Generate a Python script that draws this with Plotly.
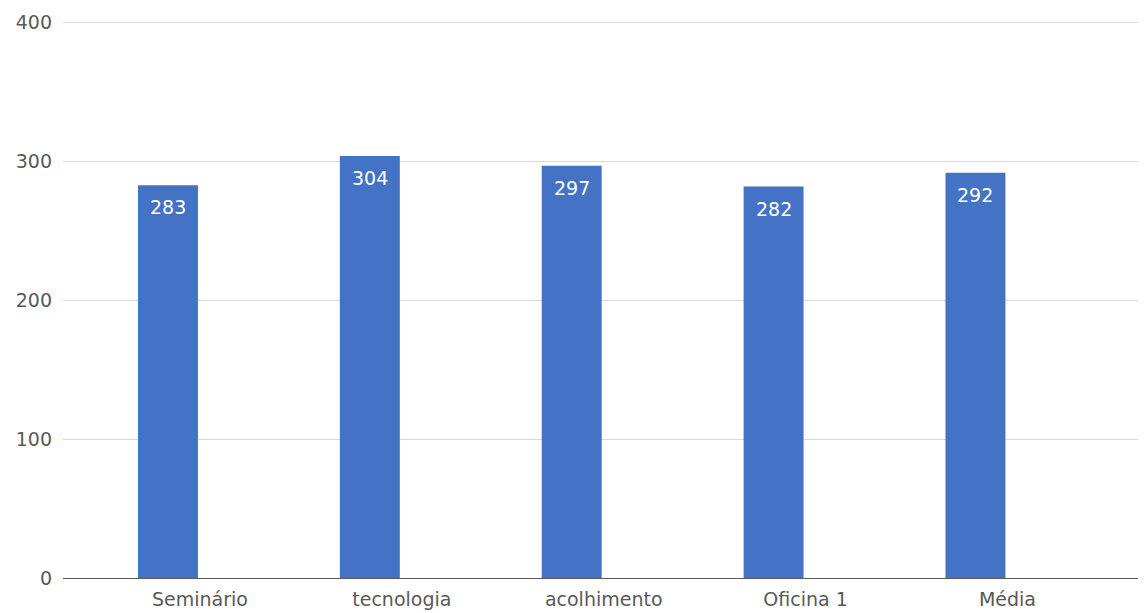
import plotly.graph_objects as go

categories = ["Seminário", "tecnologia", "acolhimento", "Oficina 1", "Média"]
values = [283, 304, 297, 282, 292]
y_ticks = [0, 100, 200, 300, 400]

FONT = "DejaVu Sans"
TICK_COLOR = "#595959"

fig = go.Figure()
fig.add_trace(go.Bar(
    x=list(range(len(categories))),
    y=values,
    width=0.297,
    marker=dict(color="#4472C4", line=dict(width=0)),
    hoverinfo="x+y",
))

for i, v in enumerate(values):
    fig.add_annotation(
        x=i, y=v, text=str(v), showarrow=False,
        xanchor="center", yanchor="top", yshift=-9,
        font=dict(family=FONT, size=19, color="white"),
    )

fig.update_layout(
    width=1138, height=605,
    margin=dict(l=55, r=3, t=10, b=34),
    paper_bgcolor="white", plot_bgcolor="white",
    showlegend=False,
    font=dict(family=FONT, color=TICK_COLOR, size=19),
    xaxis=dict(
        range=[-0.52, 4.83],
        tickmode="array",
        tickvals=list(range(len(categories))),
        ticktext=categories,
        showgrid=False,
        showline=True, linecolor="#595959", linewidth=1,
        ticks="", zeroline=False,
        ticklabelstandoff=4,
        ticklabelshift=32,
        tickfont=dict(family=FONT, size=19, color=TICK_COLOR),
    ),
    yaxis=dict(
        range=[0, 402],
        tickvals=y_ticks,
        showgrid=True, gridcolor="#d9d9d9", gridwidth=1,
        zeroline=False, showline=False,
        ticks="", ticklabelstandoff=10,
        tickfont=dict(family=FONT, size=19, color=TICK_COLOR),
    ),
)

fig.write_html("out.html")
